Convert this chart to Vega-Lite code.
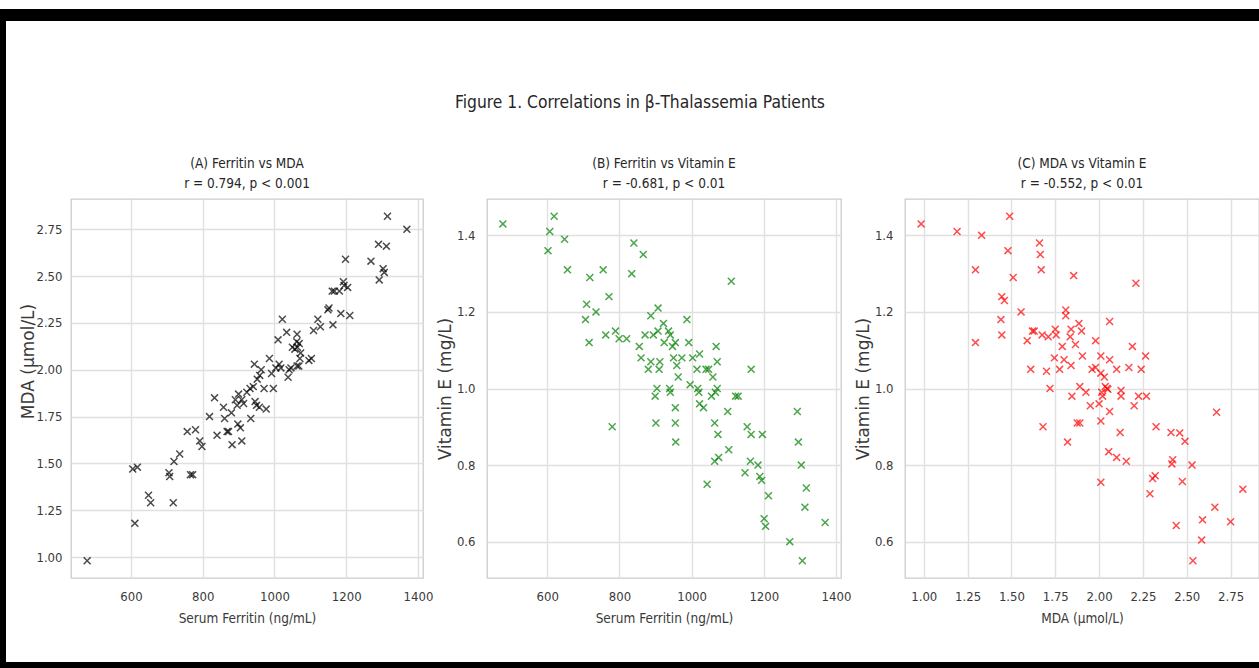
{
  "$schema": "https://vega.github.io/schema/vega-lite/v6.json",
  "background": "white",
  "padding": {"top": 9, "left": 0, "right": 0, "bottom": 0},
  "spacing": 0,
  "datasets": {
    "a": [
      {"ferritin": 478, "mda": 0.98}, {"ferritin": 605, "mda": 1.47}, {"ferritin": 618, "mda": 1.48}, {"ferritin": 611, "mda": 1.18},
      {"ferritin": 649, "mda": 1.33}, {"ferritin": 655, "mda": 1.29}, {"ferritin": 706, "mda": 1.45}, {"ferritin": 708, "mda": 1.43},
      {"ferritin": 718, "mda": 1.29}, {"ferritin": 720, "mda": 1.51}, {"ferritin": 736, "mda": 1.55}, {"ferritin": 757, "mda": 1.67},
      {"ferritin": 766, "mda": 1.44}, {"ferritin": 772, "mda": 1.44}, {"ferritin": 780, "mda": 1.68}, {"ferritin": 792, "mda": 1.62},
      {"ferritin": 798, "mda": 1.59}, {"ferritin": 819, "mda": 1.75}, {"ferritin": 833, "mda": 1.85}, {"ferritin": 840, "mda": 1.65},
      {"ferritin": 858, "mda": 1.80}, {"ferritin": 861, "mda": 1.74}, {"ferritin": 868, "mda": 1.67}, {"ferritin": 872, "mda": 1.67},
      {"ferritin": 882, "mda": 1.60}, {"ferritin": 880, "mda": 1.77}, {"ferritin": 891, "mda": 1.84}, {"ferritin": 896, "mda": 1.81},
      {"ferritin": 898, "mda": 1.71}, {"ferritin": 905, "mda": 1.69}, {"ferritin": 909, "mda": 1.62}, {"ferritin": 909, "mda": 1.84},
      {"ferritin": 914, "mda": 1.82}, {"ferritin": 900, "mda": 1.87}, {"ferritin": 923, "mda": 1.88}, {"ferritin": 932, "mda": 1.90},
      {"ferritin": 941, "mda": 1.91}, {"ferritin": 934, "mda": 1.74}, {"ferritin": 944, "mda": 2.03}, {"ferritin": 946, "mda": 1.83},
      {"ferritin": 950, "mda": 1.81}, {"ferritin": 952, "mda": 1.95}, {"ferritin": 959, "mda": 1.97}, {"ferritin": 963, "mda": 2.00},
      {"ferritin": 958, "mda": 1.80}, {"ferritin": 971, "mda": 1.90}, {"ferritin": 977, "mda": 1.79}, {"ferritin": 986, "mda": 2.06},
      {"ferritin": 992, "mda": 1.98}, {"ferritin": 997, "mda": 1.90}, {"ferritin": 1004, "mda": 2.01}, {"ferritin": 1010, "mda": 2.16},
      {"ferritin": 1013, "mda": 2.03}, {"ferritin": 1018, "mda": 2.01}, {"ferritin": 1022, "mda": 2.27}, {"ferritin": 1034, "mda": 2.20},
      {"ferritin": 1038, "mda": 1.96}, {"ferritin": 1041, "mda": 2.00}, {"ferritin": 1046, "mda": 2.01}, {"ferritin": 1050, "mda": 2.12},
      {"ferritin": 1057, "mda": 2.11}, {"ferritin": 1063, "mda": 2.19}, {"ferritin": 1063, "mda": 2.02}, {"ferritin": 1068, "mda": 2.02},
      {"ferritin": 1069, "mda": 2.14}, {"ferritin": 1071, "mda": 2.06}, {"ferritin": 1073, "mda": 2.09}, {"ferritin": 1064, "mda": 2.12},
      {"ferritin": 1062, "mda": 2.15}, {"ferritin": 1096, "mda": 2.05}, {"ferritin": 1103, "mda": 2.06}, {"ferritin": 1109, "mda": 2.21},
      {"ferritin": 1121, "mda": 2.27}, {"ferritin": 1128, "mda": 2.23}, {"ferritin": 1149, "mda": 2.32}, {"ferritin": 1152, "mda": 2.33},
      {"ferritin": 1163, "mda": 2.24}, {"ferritin": 1161, "mda": 2.42}, {"ferritin": 1167, "mda": 2.42}, {"ferritin": 1181, "mda": 2.42},
      {"ferritin": 1185, "mda": 2.30}, {"ferritin": 1192, "mda": 2.47}, {"ferritin": 1194, "mda": 2.45}, {"ferritin": 1198, "mda": 2.59},
      {"ferritin": 1204, "mda": 2.44}, {"ferritin": 1210, "mda": 2.29}, {"ferritin": 1269, "mda": 2.58}, {"ferritin": 1290, "mda": 2.67},
      {"ferritin": 1292, "mda": 2.48}, {"ferritin": 1303, "mda": 2.54}, {"ferritin": 1306, "mda": 2.52}, {"ferritin": 1312, "mda": 2.66},
      {"ferritin": 1315, "mda": 2.82}, {"ferritin": 1369, "mda": 2.75}
    ],
    "b": [
      {"ferritin": 477, "vite": 1.43}, {"ferritin": 607, "vite": 1.41}, {"ferritin": 602, "vite": 1.36}, {"ferritin": 619, "vite": 1.45},
      {"ferritin": 648, "vite": 1.39}, {"ferritin": 656, "vite": 1.31}, {"ferritin": 709, "vite": 1.22}, {"ferritin": 706, "vite": 1.18},
      {"ferritin": 718, "vite": 1.29}, {"ferritin": 716, "vite": 1.12}, {"ferritin": 735, "vite": 1.20}, {"ferritin": 755, "vite": 1.31},
      {"ferritin": 762, "vite": 1.14}, {"ferritin": 771, "vite": 1.24}, {"ferritin": 780, "vite": 0.90}, {"ferritin": 789, "vite": 1.15},
      {"ferritin": 799, "vite": 1.13}, {"ferritin": 820, "vite": 1.13}, {"ferritin": 834, "vite": 1.30}, {"ferritin": 840, "vite": 1.38},
      {"ferritin": 866, "vite": 1.35}, {"ferritin": 855, "vite": 1.11}, {"ferritin": 860, "vite": 1.08}, {"ferritin": 871, "vite": 1.14},
      {"ferritin": 880, "vite": 1.05}, {"ferritin": 887, "vite": 1.19}, {"ferritin": 887, "vite": 1.07}, {"ferritin": 894, "vite": 1.14},
      {"ferritin": 899, "vite": 0.98}, {"ferritin": 901, "vite": 0.91}, {"ferritin": 904, "vite": 1.00}, {"ferritin": 907, "vite": 1.21},
      {"ferritin": 907, "vite": 1.15}, {"ferritin": 910, "vite": 1.05}, {"ferritin": 912, "vite": 1.07}, {"ferritin": 922, "vite": 1.17},
      {"ferritin": 924, "vite": 1.12}, {"ferritin": 936, "vite": 1.15}, {"ferritin": 939, "vite": 1.00}, {"ferritin": 941, "vite": 0.99},
      {"ferritin": 941, "vite": 1.14}, {"ferritin": 947, "vite": 1.11}, {"ferritin": 955, "vite": 0.95}, {"ferritin": 955, "vite": 0.91},
      {"ferritin": 956, "vite": 0.86}, {"ferritin": 955, "vite": 1.12}, {"ferritin": 959, "vite": 1.06}, {"ferritin": 963, "vite": 1.03},
      {"ferritin": 950, "vite": 1.08}, {"ferritin": 973, "vite": 1.08}, {"ferritin": 987, "vite": 1.18}, {"ferritin": 992, "vite": 1.12},
      {"ferritin": 996, "vite": 1.01}, {"ferritin": 1003, "vite": 1.08}, {"ferritin": 1015, "vite": 1.05}, {"ferritin": 1017, "vite": 1.00},
      {"ferritin": 1020, "vite": 0.99}, {"ferritin": 1022, "vite": 1.09}, {"ferritin": 1022, "vite": 0.96}, {"ferritin": 1033, "vite": 0.95},
      {"ferritin": 1043, "vite": 0.75}, {"ferritin": 1040, "vite": 1.05}, {"ferritin": 1047, "vite": 1.05}, {"ferritin": 1055, "vite": 0.98},
      {"ferritin": 1059, "vite": 1.03}, {"ferritin": 1064, "vite": 0.91}, {"ferritin": 1064, "vite": 0.81}, {"ferritin": 1068, "vite": 1.11},
      {"ferritin": 1071, "vite": 1.07}, {"ferritin": 1066, "vite": 0.99}, {"ferritin": 1073, "vite": 0.88}, {"ferritin": 1075, "vite": 0.82},
      {"ferritin": 1071, "vite": 1.00}, {"ferritin": 1100, "vite": 0.94}, {"ferritin": 1103, "vite": 0.84}, {"ferritin": 1110, "vite": 1.28},
      {"ferritin": 1122, "vite": 0.98}, {"ferritin": 1129, "vite": 0.98}, {"ferritin": 1148, "vite": 0.78}, {"ferritin": 1154, "vite": 0.90},
      {"ferritin": 1165, "vite": 1.05}, {"ferritin": 1165, "vite": 0.88}, {"ferritin": 1163, "vite": 0.81}, {"ferritin": 1184, "vite": 0.80},
      {"ferritin": 1189, "vite": 0.77}, {"ferritin": 1194, "vite": 0.76}, {"ferritin": 1196, "vite": 0.88}, {"ferritin": 1201, "vite": 0.66},
      {"ferritin": 1205, "vite": 0.64}, {"ferritin": 1213, "vite": 0.72}, {"ferritin": 1272, "vite": 0.60}, {"ferritin": 1293, "vite": 0.94},
      {"ferritin": 1296, "vite": 0.86}, {"ferritin": 1304, "vite": 0.80}, {"ferritin": 1307, "vite": 0.55}, {"ferritin": 1314, "vite": 0.69},
      {"ferritin": 1318, "vite": 0.74}, {"ferritin": 1370, "vite": 0.65}
    ],
    "c": [
      {"mda": 0.985, "vite": 1.43}, {"mda": 1.19, "vite": 1.41}, {"mda": 1.33, "vite": 1.40}, {"mda": 1.295, "vite": 1.31},
      {"mda": 1.295, "vite": 1.12}, {"mda": 1.49, "vite": 1.45}, {"mda": 1.48, "vite": 1.36}, {"mda": 1.51, "vite": 1.29},
      {"mda": 1.445, "vite": 1.24}, {"mda": 1.46, "vite": 1.23}, {"mda": 1.44, "vite": 1.18}, {"mda": 1.445, "vite": 1.14},
      {"mda": 1.555, "vite": 1.20}, {"mda": 1.59, "vite": 1.125}, {"mda": 1.61, "vite": 1.05}, {"mda": 1.62, "vite": 1.15},
      {"mda": 1.63, "vite": 1.15}, {"mda": 1.66, "vite": 1.38}, {"mda": 1.665, "vite": 1.35}, {"mda": 1.67, "vite": 1.31},
      {"mda": 1.675, "vite": 1.14}, {"mda": 1.68, "vite": 0.90}, {"mda": 1.70, "vite": 1.045}, {"mda": 1.71, "vite": 1.135},
      {"mda": 1.72, "vite": 1.00}, {"mda": 1.745, "vite": 1.08}, {"mda": 1.75, "vite": 1.155}, {"mda": 1.755, "vite": 1.14},
      {"mda": 1.775, "vite": 1.05}, {"mda": 1.79, "vite": 1.11}, {"mda": 1.80, "vite": 1.075}, {"mda": 1.81, "vite": 1.205},
      {"mda": 1.81, "vite": 1.19}, {"mda": 1.82, "vite": 0.86}, {"mda": 1.835, "vite": 1.135}, {"mda": 1.84, "vite": 1.06},
      {"mda": 1.84, "vite": 1.155}, {"mda": 1.845, "vite": 0.98}, {"mda": 1.855, "vite": 1.295}, {"mda": 1.865, "vite": 1.115},
      {"mda": 1.875, "vite": 0.91}, {"mda": 1.89, "vite": 0.91}, {"mda": 1.885, "vite": 1.17}, {"mda": 1.90, "vite": 1.15},
      {"mda": 1.89, "vite": 1.005}, {"mda": 1.905, "vite": 1.085}, {"mda": 1.925, "vite": 0.99}, {"mda": 1.95, "vite": 0.955},
      {"mda": 1.96, "vite": 1.05}, {"mda": 1.98, "vite": 1.125}, {"mda": 1.98, "vite": 1.055}, {"mda": 2.00, "vite": 0.96},
      {"mda": 2.01, "vite": 0.755}, {"mda": 2.01, "vite": 0.915}, {"mda": 2.01, "vite": 1.085}, {"mda": 2.01, "vite": 1.04},
      {"mda": 2.015, "vite": 0.99}, {"mda": 2.02, "vite": 0.98}, {"mda": 2.03, "vite": 1.03}, {"mda": 2.035, "vite": 1.005},
      {"mda": 2.045, "vite": 1.00}, {"mda": 2.05, "vite": 0.998}, {"mda": 2.06, "vite": 1.175}, {"mda": 2.06, "vite": 1.075},
      {"mda": 2.06, "vite": 0.94}, {"mda": 2.055, "vite": 0.835}, {"mda": 2.10, "vite": 0.82}, {"mda": 2.10, "vite": 1.05},
      {"mda": 2.12, "vite": 0.885}, {"mda": 2.125, "vite": 0.995}, {"mda": 2.125, "vite": 0.98}, {"mda": 2.155, "vite": 0.81},
      {"mda": 2.17, "vite": 1.055}, {"mda": 2.19, "vite": 1.11}, {"mda": 2.20, "vite": 0.955}, {"mda": 2.21, "vite": 1.275},
      {"mda": 2.225, "vite": 0.98}, {"mda": 2.24, "vite": 1.05}, {"mda": 2.265, "vite": 1.085}, {"mda": 2.27, "vite": 0.98},
      {"mda": 2.29, "vite": 0.725}, {"mda": 2.305, "vite": 0.765}, {"mda": 2.32, "vite": 0.772}, {"mda": 2.325, "vite": 0.90},
      {"mda": 2.41, "vite": 0.885}, {"mda": 2.415, "vite": 0.803}, {"mda": 2.42, "vite": 0.814}, {"mda": 2.46, "vite": 0.884},
      {"mda": 2.44, "vite": 0.642}, {"mda": 2.475, "vite": 0.757}, {"mda": 2.49, "vite": 0.862}, {"mda": 2.53, "vite": 0.80},
      {"mda": 2.535, "vite": 0.55}, {"mda": 2.585, "vite": 0.604}, {"mda": 2.59, "vite": 0.657}, {"mda": 2.66, "vite": 0.69},
      {"mda": 2.67, "vite": 0.938}, {"mda": 2.75, "vite": 0.652}, {"mda": 2.82, "vite": 0.737}
    ]
  },
  "config": {
    "font": "DejaVu Sans Condensed, Liberation Sans, sans-serif",
    "view": {"stroke": "#cccccc", "strokeWidth": 1.3},
    "axis": {
      "grid": true, "gridColor": "#e0e0e0", "gridWidth": 1.4, "domain": false, "ticks": false, "tickSize": 0,
      "labelFont": "DejaVu Sans Condensed, Liberation Sans, sans-serif", "labelFontSize": 13, "labelColor": "#3a3a3a", "labelPadding": 12, "labelFlush": false,
      "titleColor": "#3a3a3a", "titleFontWeight": "normal"
    },
    "axisX": {"titleFont": "DejaVu Sans Condensed, Liberation Sans, sans-serif", "titleFontSize": 13.5, "titlePadding": 8, "labelPadding": 12},
    "axisY": {"titleFont": "DejaVu Sans", "titleFontSize": 17, "titlePadding": 1.5},
    "title": {"font": "DejaVu Sans Condensed, Liberation Sans, sans-serif", "fontWeight": "normal", "color": "#262626"}
  },
  "vconcat": [
    {"width": 1259, "height": 12, "data": {"values": []}, "mark": "point", "view": {"fill": "black", "stroke": null}},
    {
      "spacing": 13,
      "hconcat": [
        {"width": 6, "height": 641, "data": {"values": []}, "mark": "point", "view": {"fill": "black", "stroke": null}},
        {
          "spacing": 43,
          "vconcat": [
            {
              "width": 1138, "height": 73, "data": {"values": []}, "mark": "point", "view": {"stroke": null},
              "title": {"text": "Figure 1. Correlations in β-Thalassemia Patients", "orient": "bottom", "fontSize": 17.3, "offset": 0, "anchor": "middle"}
            },
            {
              "spacing": 64,
              "bounds": "flush",
              "hconcat": [
                {
                  "width": 352, "height": 379,
                  "data": {"name": "a"},
                  "title": {"text": ["(A) Ferritin vs MDA", "r = 0.794, p < 0.001"], "fontSize": 13.5, "lineHeight": 20, "offset": 9, "anchor": "middle"},
                  "mark": {"type": "point", "shape": "M-1,-1L1,1M1,-1L-1,1", "filled": false, "size": 48, "strokeWidth": 1.5, "color": "black", "opacity": 0.7},
                  "encoding": {
                    "x": {"field": "ferritin", "type": "quantitative", "scale": {"domain": [433, 1414], "nice": false, "zero": false}, "axis": {"title": "Serum Ferritin (ng/mL)", "values": [600, 800, 1000, 1200, 1400], "format": "d"}},
                    "y": {"field": "mda", "type": "quantitative", "scale": {"domain": [0.888, 2.912], "nice": false, "zero": false}, "axis": {"title": "MDA (μmol/L)", "values": [1, 1.25, 1.5, 1.75, 2, 2.25, 2.5, 2.75], "format": ".2f", "labelPadding": 9, "titlePadding": -2, "titleY": 162}}
                  }
                },
                {
                  "width": 354, "height": 379,
                  "data": {"name": "b"},
                  "title": {"text": ["(B) Ferritin vs Vitamin E", "r = -0.681, p < 0.01"], "fontSize": 13.5, "lineHeight": 20, "offset": 9, "anchor": "middle"},
                  "mark": {"type": "point", "shape": "M-1,-1L1,1M1,-1L-1,1", "filled": false, "size": 48, "strokeWidth": 1.5, "color": "#008000", "opacity": 0.7},
                  "encoding": {
                    "x": {"field": "ferritin", "type": "quantitative", "scale": {"domain": [433, 1414], "nice": false, "zero": false}, "axis": {"title": "Serum Ferritin (ng/mL)", "values": [600, 800, 1000, 1200, 1400], "format": "d"}},
                    "y": {"field": "vite", "type": "quantitative", "scale": {"domain": [0.505, 1.495], "nice": false, "zero": false}, "axis": {"title": "Vitamin E (mg/L)", "values": [0.6, 0.8, 1.0, 1.2, 1.4], "format": ".1f"}}
                  }
                },
                {
                  "width": 354, "height": 379,
                  "data": {"name": "c"},
                  "title": {"text": ["(C) MDA vs Vitamin E", "r = -0.552, p < 0.01"], "fontSize": 13.5, "lineHeight": 20, "offset": 9, "anchor": "middle"},
                  "mark": {"type": "point", "shape": "M-1,-1L1,1M1,-1L-1,1", "filled": false, "size": 48, "strokeWidth": 1.5, "color": "#ff0000", "opacity": 0.7},
                  "encoding": {
                    "x": {"field": "mda", "type": "quantitative", "scale": {"domain": [0.893, 2.912], "nice": false, "zero": false}, "axis": {"title": "MDA (μmol/L)", "values": [1, 1.25, 1.5, 1.75, 2, 2.25, 2.5, 2.75], "format": ".2f"}},
                    "y": {"field": "vite", "type": "quantitative", "scale": {"domain": [0.505, 1.495], "nice": false, "zero": false}, "axis": {"title": "Vitamin E (mg/L)", "values": [0.6, 0.8, 1.0, 1.2, 1.4], "format": ".1f"}}
                  }
                }
              ]
            }
          ]
        }
      ]
    },
    {"width": 1259, "height": 6, "data": {"values": []}, "mark": "point", "view": {"fill": "black", "stroke": null}}
  ]
}
